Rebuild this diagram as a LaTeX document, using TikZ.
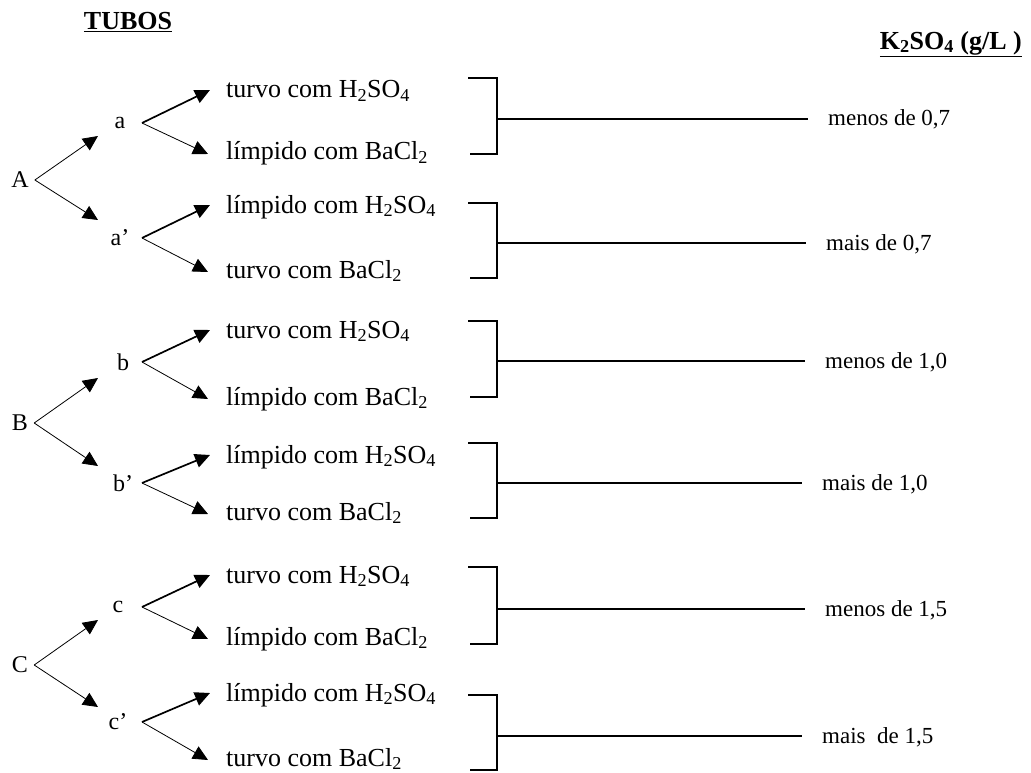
\documentclass[tikz,border=0pt]{standalone}
\usepackage{fontspec}
\setmainfont{Liberation Serif}
\usetikzlibrary{arrows.meta}
\newcommand\hso{H\textsubscript{2}SO\textsubscript{4}}
\newcommand\bac{BaCl\textsubscript{2}}
\begin{document}
\begin{tikzpicture}[x=1pt,y=-1pt,
  txt/.style={font=\fontsize{24}{28}\selectfont, inner sep=0pt},
  row/.style={font=\fontsize{26}{30}\selectfont, inner sep=0pt, anchor=base west},
  lab/.style={font=\fontsize{23}{27}\selectfont, inner sep=0pt, anchor=base west},
  head/.style={font=\fontsize{26}{30}\selectfont\bfseries, inner sep=0pt},
  thinarr/.style={line width=0.8pt, -{Triangle[length=15pt,width=14pt]}},
  thickarr/.style={line width=1.7pt, -{Triangle[length=15pt,width=14pt]}},
  brk/.style={line width=1.3pt},
  conn/.style={line width=1.3pt}]
\useasboundingbox (0,0) rectangle (1031,773);
% headers
\node[head] (tubos) at (128,22) {\underline{TUBOS}};
\node[head, anchor=east] (k2so4) at (1022,44) {\underline{K\textsubscript{2}SO\textsubscript{4} (g/L )}};
% capital letters
\node[txt] (A) at (20,180) {A};
\node[txt] (B) at (20,423) {B};
\node[txt] (C) at (20,665) {C};
% tip coordinates for capital-letter arrows
\coordinate (Aup) at (98,136);
\coordinate (Adn) at (98,220);
\coordinate (Bup) at (98,378);
\coordinate (Bdn) at (98,466);
\coordinate (Cup) at (98,620);
\coordinate (Cdn) at (98,707);
\draw[thinarr] ([xshift=6pt]A.east) -- (Aup);
\draw[thinarr] ([xshift=6pt]A.east) -- (Adn);
\draw[thinarr] ([xshift=6pt]B.east) -- (Bup);
\draw[thinarr] ([xshift=6pt]B.east) -- (Bdn);
\draw[thinarr] ([xshift=6pt]C.east) -- (Cup);
\draw[thinarr] ([xshift=6pt]C.east) -- (Cdn);
% lower-case groups
\foreach \n/\lt/\lx/\ly/\ra/\rb/\ta/\tb/\bt/\bb/\bm/\lb/\lbx in {
  a/{a}/120/123/90/152/{turvo com \hso}/{límpido com \bac}/78/154/119/{menos de 0,7}/828,
  ap/{a’}/120/238/205/270/{límpido com \hso}/{turvo com \bac}/203/278/243/{mais de 0,7}/826,
  b/{b}/123/362/330/397/{turvo com \hso}/{límpido com \bac}/321/397/361/{menos de 1,0}/825,
  bp/{b’}/123/483/455/512/{límpido com \hso}/{turvo com \bac}/443/518/483/{mais de 1,0}/822,
  c/{c}/118/607/575/637/{turvo com \hso}/{límpido com \bac}/567/644/609/{menos de 1,5}/825,
  cp/{c’}/118/722/693/758/{límpido com \hso}/{turvo com \bac}/695/770/736/{mais\ \ de 1,5}/822}
{
  \node[txt] (\n) at (\lx,\ly) {\lt};
  \node[row] (\n1) at (226,\ra+8) {\ta};
  \node[row] (\n2) at (226,\rb+8) {\tb};
  \coordinate (\n br) at (142,\ly);
  \draw[thickarr] (\n br) -- ([xshift=-16pt,yshift=8pt]\n1.base west);
  \draw[thinarr] (\n br) -- ([xshift=-18pt,yshift=6pt]\n2.base west);
  \draw[brk] (468,\bt) -- (497,\bt) -- (497,\bb) -- (470,\bb);
  \node[lab] (\n L) at (\lbx,\bm+7) {\lb};
  \draw[conn] (497,\bm) -- ([xshift=-20pt,yshift=7pt]\n L.base west);
}
\end{tikzpicture}
\end{document}
